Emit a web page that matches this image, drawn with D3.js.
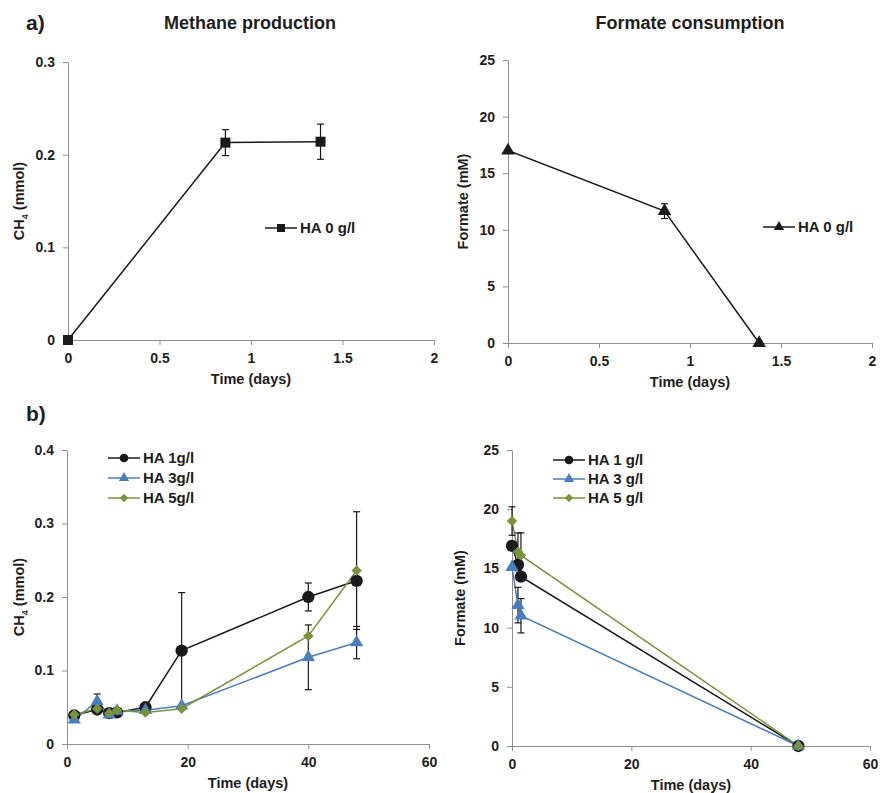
<!DOCTYPE html>
<html>
<head>
<meta charset="utf-8">
<script src="https://cdn.jsdelivr.net/npm/d3@7"></script>
<style>
  body { margin: 0; background: #fff; }
  svg { display: block; }
  text { font-family: "Liberation Sans", Arial, sans-serif; font-weight: bold; fill: #1e1e1e; }
</style>
</head>
<body>
<svg id="chart" width="880" height="793"></svg>
<script>
// ---- data ----
var aTime = [0, 0.86, 1.38];
var aMethane = [0, 0.213, 0.214];
var aMethaneErr = [0, 0.014, 0.019];
var aFormate = [17, 11.65, 0];
var aFormateErr = [0, 0.65, 0];

var bMethDays = [1.2, 5, 7, 8.3, 13, 19, 40, 48];
var bMeth1 = [0.039, 0.047, 0.042, 0.043, 0.050, 0.127, 0.200, 0.222];
var bMeth1Err = [0, 0, 0, 0, 0, 0.079, 0.019, 0];
var bMeth3 = [0.033, 0.058, 0.040, 0.045, 0.046, 0.052, 0.118, 0.138];
var bMeth3Err = [0, 0.010, 0, 0, 0, 0, 0.044, 0.022];
var bMeth5 = [0.040, 0.048, 0.042, 0.046, 0.043, 0.048, 0.147, 0.236];
var bMeth5Err = [0, 0, 0, 0, 0, 0, 0, 0.080];

var bFormDays = [0, 1, 1.5, 48];
var bForm1 = [16.9, 15.3, 14.3, 0];
var bForm1Err = [0, 0, 0, 0];
var bForm3 = [15.1, 11.9, 11.0, 0];
var bForm3Err = [0, 1.5, 1.45, 0];
var bForm5 = [19.0, 16.4, 16.1, 0];
var bForm5Err = [1.2, 1.6, 1.9, 0];

var aXTicks = [0, 0.5, 1, 1.5, 2];
var bXTicks = [0, 20, 40, 60];
var methATicks = [0, 0.1, 0.2, 0.3];
var methBTicks = [0, 0.1, 0.2, 0.3, 0.4];
var formTicks = [0, 5, 10, 15, 20, 25];

var labelsB1 = ["HA 1g/l", "HA 3g/l", "HA 5g/l"];
var labelsB2 = ["HA 1 g/l", "HA 3 g/l", "HA 5 g/l"];

var BLACK = "#1a1a1a", BLUE = "#4a7ebb", GREEN = "#77933c";

var svg = d3.select("#chart");

function markerPath(type, size) {
    var sym = { square: d3.symbolSquare, triangle: d3.symbolTriangle,
                circle: d3.symbolCircle, diamond: d3.symbolSquare }[type];
    return d3.symbol().type(sym).size(size)();
}

function drawPanel(p) {
    var x = d3.scaleLinear().domain(p.xDomain).range([p.left, p.right]);
    var y = d3.scaleLinear().domain(p.yDomain).range([p.bottom, p.top]);
    var g = svg.append("g");

    var xAxis = g.append("g")
        .attr("transform", "translate(0," + p.bottom + ")")
        .call(d3.axisBottom(x).tickValues(p.xTicks).tickFormat(String)
            .tickSize(5).tickSizeOuter(0).tickPadding(8));
    var yAxis = g.append("g")
        .attr("transform", "translate(" + p.left + ",0)")
        .call(d3.axisLeft(y).tickValues(p.yTicks).tickFormat(String)
            .tickSize(5).tickSizeOuter(0).tickPadding(8));
    [xAxis, yAxis].forEach(function (ax) {
        ax.select(".domain").attr("stroke", "#8f8f8f");
        ax.selectAll(".tick line").attr("stroke", "#8f8f8f");
        ax.selectAll(".tick text").attr("font-size", 14).attr("fill", "#1e1e1e")
            .attr("font-family", "Liberation Sans, Arial, sans-serif");
    });

    // axis titles
    g.append("text")
        .attr("x", (p.left + p.right) / 2)
        .attr("y", p.bottom + 44)
        .attr("text-anchor", "middle")
        .attr("font-size", 14.5)
        .text("Time (days)");

    var yl = g.append("text")
        .attr("transform", "translate(" + (p.left - p.yLabelOff) + "," + ((p.top + p.bottom) / 2) + ") rotate(-90)")
        .attr("text-anchor", "middle")
        .attr("font-size", 14.5);
    if (p.ch4) {
        yl.append("tspan").text("CH");
        yl.append("tspan").attr("font-size", 9).attr("dy", 4).text("4");
        yl.append("tspan").attr("dy", -4).text(" (mmol)");
    } else {
        yl.text("Formate (mM)");
    }

    // series
    p.series.forEach(function (s) {
        var pts = s.x.map(function (d, i) { return { x: d, y: s.y[i], e: s.err[i] }; });
        g.append("path")
            .datum(pts)
            .attr("fill", "none")
            .attr("stroke", s.color)
            .attr("stroke-width", 1.5)
            .attr("d", d3.line().x(function (d) { return x(d.x); }).y(function (d) { return y(d.y); }));
    });

    // error bars
    p.series.forEach(function (s) {
        var pts = s.x.map(function (d, i) { return { x: d, y: s.y[i], e: s.err[i] }; })
            .filter(function (d) { return d.e > 0; });
        var eg = g.append("g").attr("stroke", BLACK).attr("stroke-width", 1.2);
        pts.forEach(function (d) {
            var cx = x(d.x), y1 = y(d.y + d.e), y2 = y(d.y - d.e);
            eg.append("line").attr("x1", cx).attr("x2", cx).attr("y1", y1).attr("y2", y2);
            eg.append("line").attr("x1", cx - 3.5).attr("x2", cx + 3.5).attr("y1", y1).attr("y2", y1);
            eg.append("line").attr("x1", cx - 3.5).attr("x2", cx + 3.5).attr("y1", y2).attr("y2", y2);
        });
    });

    // markers
    p.series.forEach(function (s) {
        g.append("g").selectAll("path")
            .data(s.x.map(function (d, i) { return { x: d, y: s.y[i] }; }))
            .enter().append("path")
            .attr("d", markerPath(s.marker, s.size))
            .attr("fill", s.color)
            .attr("transform", function (d) {
                return "translate(" + x(d.x) + "," + y(d.y) + ")" + (s.marker === "diamond" ? " rotate(45)" : "");
            });
    });

    // legend
    p.series.forEach(function (s, i) {
        var ly = p.legY + i * p.legStep;
        var lg = g.append("g");
        lg.append("line")
            .attr("x1", p.legX).attr("x2", p.legX + 32)
            .attr("y1", ly).attr("y2", ly)
            .attr("stroke", s.color).attr("stroke-width", 1.5);
        lg.append("path")
            .attr("d", markerPath(s.marker, s.legSize))
            .attr("fill", s.color)
            .attr("transform", "translate(" + (p.legX + 16) + "," + ly + ")" + (s.marker === "diamond" ? " rotate(45)" : ""));
        lg.append("text")
            .attr("x", p.legX + 35)
            .attr("y", ly)
            .attr("dy", "0.36em")
            .attr("font-size", 15)
            .text(s.label);
    });
}

// panel a, left
drawPanel({
    left: 68, right: 434, top: 62, bottom: 340,
    xDomain: [0, 2], yDomain: [0, 0.3], xTicks: aXTicks, yTicks: methATicks,
    yLabelOff: 44, ch4: true, legX: 265, legY: 228, legStep: 20,
    series: [{ x: aTime, y: aMethane, err: aMethaneErr, color: BLACK, marker: "square",
               size: 100, legSize: 64, label: "HA 0 g/l" }]
});

// panel a, right
drawPanel({
    left: 508, right: 872, top: 60, bottom: 343,
    xDomain: [0, 2], yDomain: [0, 25], xTicks: aXTicks, yTicks: formTicks,
    yLabelOff: 40, ch4: false, legX: 763, legY: 227, legStep: 20,
    series: [{ x: aTime, y: aFormate, err: aFormateErr, color: BLACK, marker: "triangle",
               size: 80, legSize: 48, label: "HA 0 g/l" }]
});

// panel b, left
drawPanel({
    left: 67, right: 429, top: 450, bottom: 744,
    xDomain: [0, 60], yDomain: [0, 0.4], xTicks: bXTicks, yTicks: methBTicks,
    yLabelOff: 43, ch4: true, legX: 108, legY: 458, legStep: 20,
    series: [
        { x: bMethDays, y: bMeth1, err: bMeth1Err, color: BLACK, marker: "circle", size: 120, legSize: 60, label: labelsB1[0] },
        { x: bMethDays, y: bMeth3, err: bMeth3Err, color: BLUE, marker: "triangle", size: 75, legSize: 45, label: labelsB1[1] },
        { x: bMethDays, y: bMeth5, err: bMeth5Err, color: GREEN, marker: "diamond", size: 55, legSize: 35, label: labelsB1[2] }
    ]
});

// panel b, right
drawPanel({
    left: 512, right: 870, top: 450, bottom: 746,
    xDomain: [0, 60], yDomain: [0, 25], xTicks: bXTicks, yTicks: formTicks,
    yLabelOff: 47, ch4: false, legX: 553, legY: 460, legStep: 19,
    series: [
        { x: bFormDays, y: bForm1, err: bForm1Err, color: BLACK, marker: "circle", size: 120, legSize: 60, label: labelsB2[0] },
        { x: bFormDays, y: bForm3, err: bForm3Err, color: BLUE, marker: "triangle", size: 75, legSize: 45, label: labelsB2[1] },
        { x: bFormDays, y: bForm5, err: bForm5Err, color: GREEN, marker: "diamond", size: 55, legSize: 35, label: labelsB2[2] }
    ]
});

// titles and panel letters
svg.append("text").attr("x", 250).attr("y", 29).attr("text-anchor", "middle")
    .attr("font-size", 18).text("Methane production");
svg.append("text").attr("x", 690).attr("y", 29).attr("text-anchor", "middle")
    .attr("font-size", 18).text("Formate consumption");
svg.append("text").attr("x", 26).attr("y", 30).attr("font-size", 21).text("a)");
svg.append("text").attr("x", 26).attr("y", 421).attr("font-size", 21).text("b)");
</script>
</body>
</html>
